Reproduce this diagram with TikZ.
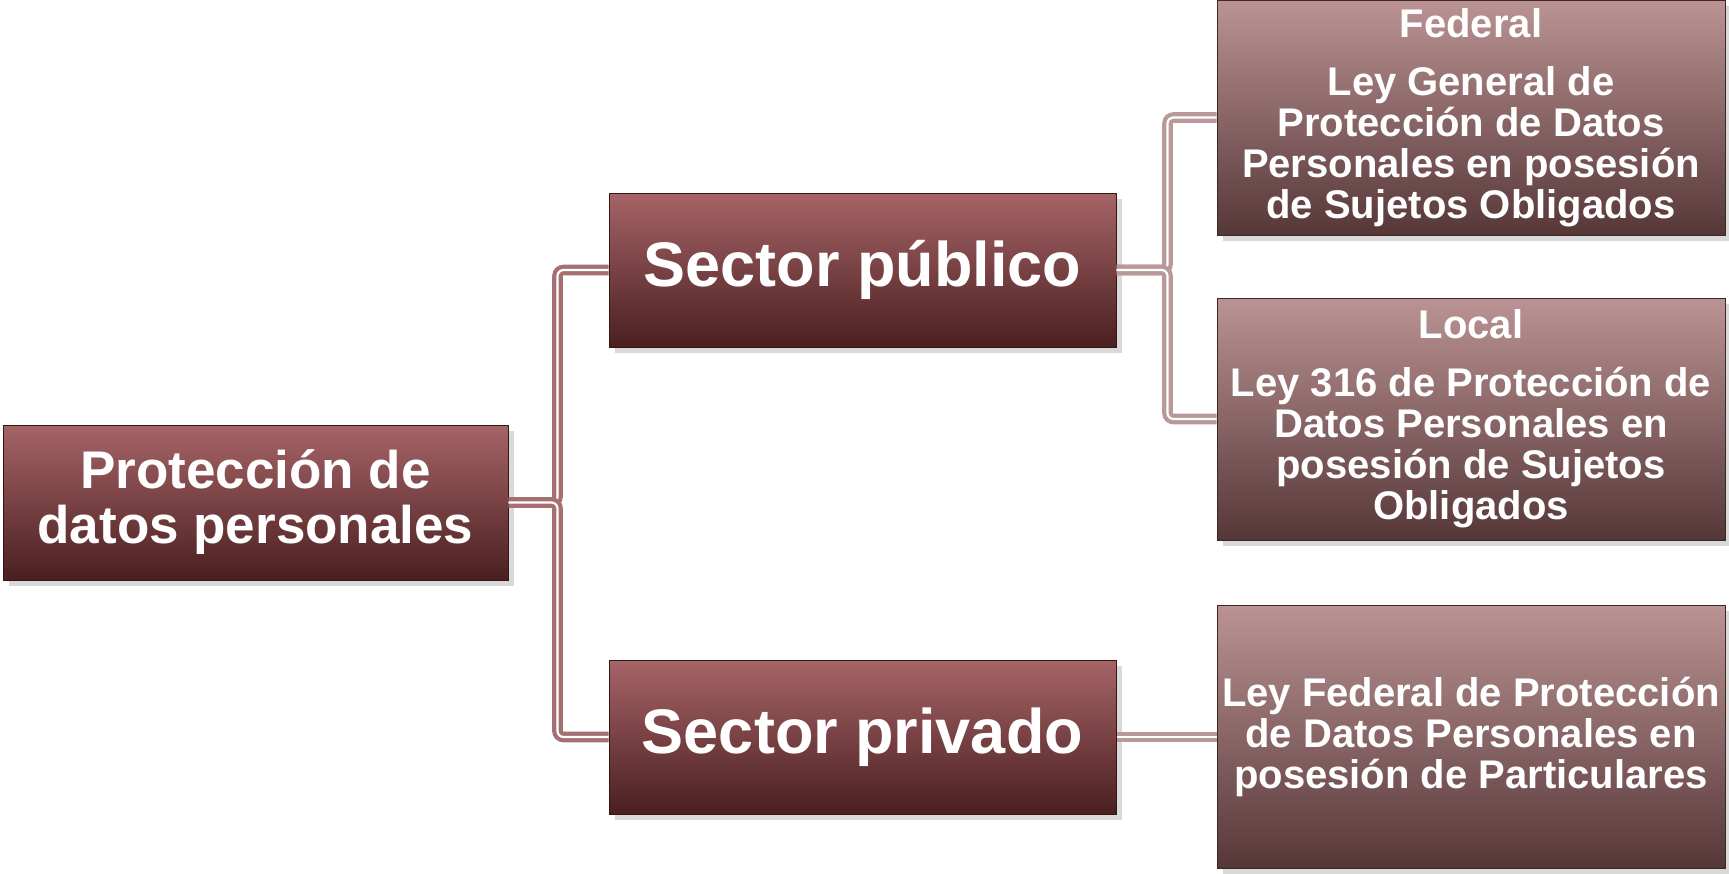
\documentclass[tikz,border=0pt]{standalone}
\usepackage{fontspec}
\setmainfont{Liberation Sans}
\usetikzlibrary{shadows}
\definecolor{boxtop}{RGB}{166,100,103}
\definecolor{boxbot}{RGB}{74,31,32}
\definecolor{lawtop}{RGB}{187,147,148}
\definecolor{lawbot}{RGB}{86,55,56}
\definecolor{linkA}{RGB}{165,112,114}
\definecolor{linkB}{RGB}{186,151,152}

\begin{document}
\begin{tikzpicture}[x=0.5pt,y=-0.5pt]
\tikzstyle{every node}+=[inner sep=0pt, text=white, align=center]
\tikzstyle{box}=[draw=boxbot!70!black, line width=0.5pt, top color=boxtop, bottom color=boxbot, drop shadow={shadow xshift=3pt, shadow yshift=-3pt, opacity=0.3}]
\tikzstyle{lawbox}=[box, draw=lawbot!70!black, top color=lawtop, bottom color=lawbot, minimum width=254pt, font=\bfseries\fontsize{20}{20.5}\selectfont]
\tikzstyle{sector}=[box, minimum width=253.5pt, minimum height=77pt, font=\bfseries\fontsize{31.5}{31.5}\selectfont]
\tikzstyle{link}=[line width=2.1pt, double=white, double distance=1.1pt, rounded corners=3pt]
\useasboundingbox (0,0) rectangle (1729,873);
\node [box, minimum width=252.5pt, minimum height=77.5pt, font=\bfseries\fontsize{26.5}{27.5}\selectfont] (root) at (255.5,502.5) {Protección de\\datos personales};
\node [sector] (pub) at (862.5,270) {Sector público};
\node [sector] (priv) at (862.5,737) {Sector privado};
\node [lawbox, minimum height=117.5pt] (fed) at (1471,117.5) {Federal\\[8.5pt]Ley General de\\Protección de Datos\\Personales en posesión\\de Sujetos Obligados};
\node [lawbox, minimum height=121pt] (loc) at (1471,419) {Local\\[8.5pt]Ley 316 de Protección de\\Datos Personales en\\posesión de Sujetos\\Obligados};
\node [lawbox, minimum height=131.5pt] (law) at (1471,736.5) {Ley Federal de Protección\\de Datos Personales en\\posesión de Particulares};
\draw [link, draw=linkA] (root.east) -- ++(49,0) |- (pub.west);
\draw [link, draw=linkA] (root.east) -- ++(49,0) |- (priv.west);
\draw [link, draw=linkB] (pub.east) -- ++(51,0) |- (fed.west);
\draw [link, draw=linkB] (pub.east) -- ++(51,0) |- (loc.west);
\draw [link, draw=linkB] (priv.east) -- (priv.east -| law.west);
\end{tikzpicture}
\end{document}
